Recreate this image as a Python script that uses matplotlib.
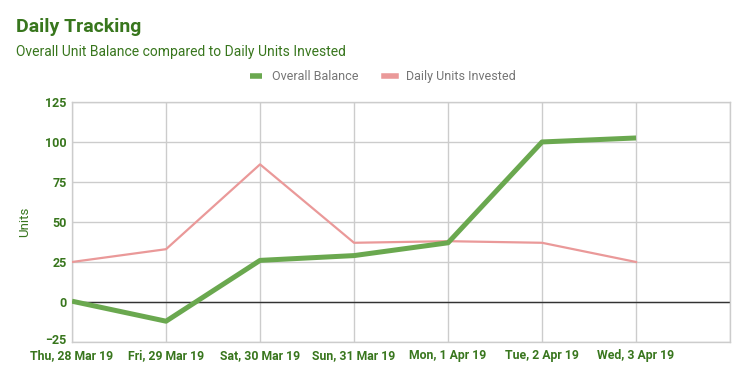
import numpy as np
import matplotlib
matplotlib.use('Agg')
import matplotlib.pyplot as plt
import matplotlib.transforms as mtransforms

plt.rcParams['font.family'] = ['Roboto', 'DejaVu Sans']

## Data
days = ['Thu, 28 Mar 19', 'Fri, 29 Mar 19', 'Sat, 30 Mar 19', 'Sun, 31 Mar 19',
        'Mon, 1 Apr 19', 'Tue, 2 Apr 19', 'Wed, 3 Apr 19']
overall_balance = [0.5, -12, 26, 29, 37, 100, 102.5]
daily_invested = [25, 33, 86, 37, 38, 37, 25]
y_ticks = [-25, 0, 25, 50, 75, 100, 125]

dark_green = '#38761d'
line_green = '#6aa84f'
line_pink = '#ea9999'
grid_col = '#cccccc'

fig = plt.figure(figsize=(7.48, 3.79), dpi=100)
ax = fig.add_axes([0.0963, 0.0976, 0.8797, 0.6334])

x = np.arange(len(days))
ax.plot(x, overall_balance, color=line_green, lw=3.6, label='Overall Balance',
        solid_capstyle='butt', zorder=4)
ax.plot(x, daily_invested, color=line_pink, lw=1.6, label='Daily Units Invested', zorder=3)
ax.axhline(0, color='#333333', lw=1, zorder=2)

ax.set_xlim(0, len(days))
ax.set_ylim(-25, 125)
ax.set_xticks(np.arange(len(days) + 1))
ax.set_xticklabels(days + [''])
ax.set_yticks(y_ticks)
ax.grid(True, color=grid_col, lw=1, zorder=0)
ax.set_axisbelow(True)
for s in ax.spines.values():
    s.set_color(grid_col)
    s.set_linewidth(1)
ax.tick_params(axis='y', length=0, pad=4, labelsize=9, labelcolor=dark_green)
ax.tick_params(axis='x', length=0, pad=5, labelsize=8.8, labelcolor=dark_green)
for lbl in ax.get_xticklabels() + ax.get_yticklabels():
    lbl.set_fontweight('bold')
# nudge the lowest y label up a touch so it clears the date labels
low = ax.get_yticklabels()[0]
low.set_transform(low.get_transform() + mtransforms.ScaledTranslation(0, 2 / 72, fig.dpi_scale_trans))
ax.set_ylabel('Units', color=dark_green, fontsize=9.5, labelpad=10)

fig.text(0.022, 0.915, 'Daily Tracking', color=dark_green, fontsize=14,
         fontweight='bold')
fig.text(0.022, 0.853, 'Overall Unit Balance compared to Daily Units Invested',
         color=dark_green, fontsize=10)

leg = fig.legend(loc='center', bbox_to_anchor=(0.512, 0.797), ncol=2, frameon=False,
                 fontsize=9, handlelength=1.0, handleheight=0.5, columnspacing=2.0)
for t in leg.get_texts():
    t.set_color('#757575')
for h in leg.get_lines():
    h.set_linewidth(4)

fig.savefig('out.png', dpi=100)
